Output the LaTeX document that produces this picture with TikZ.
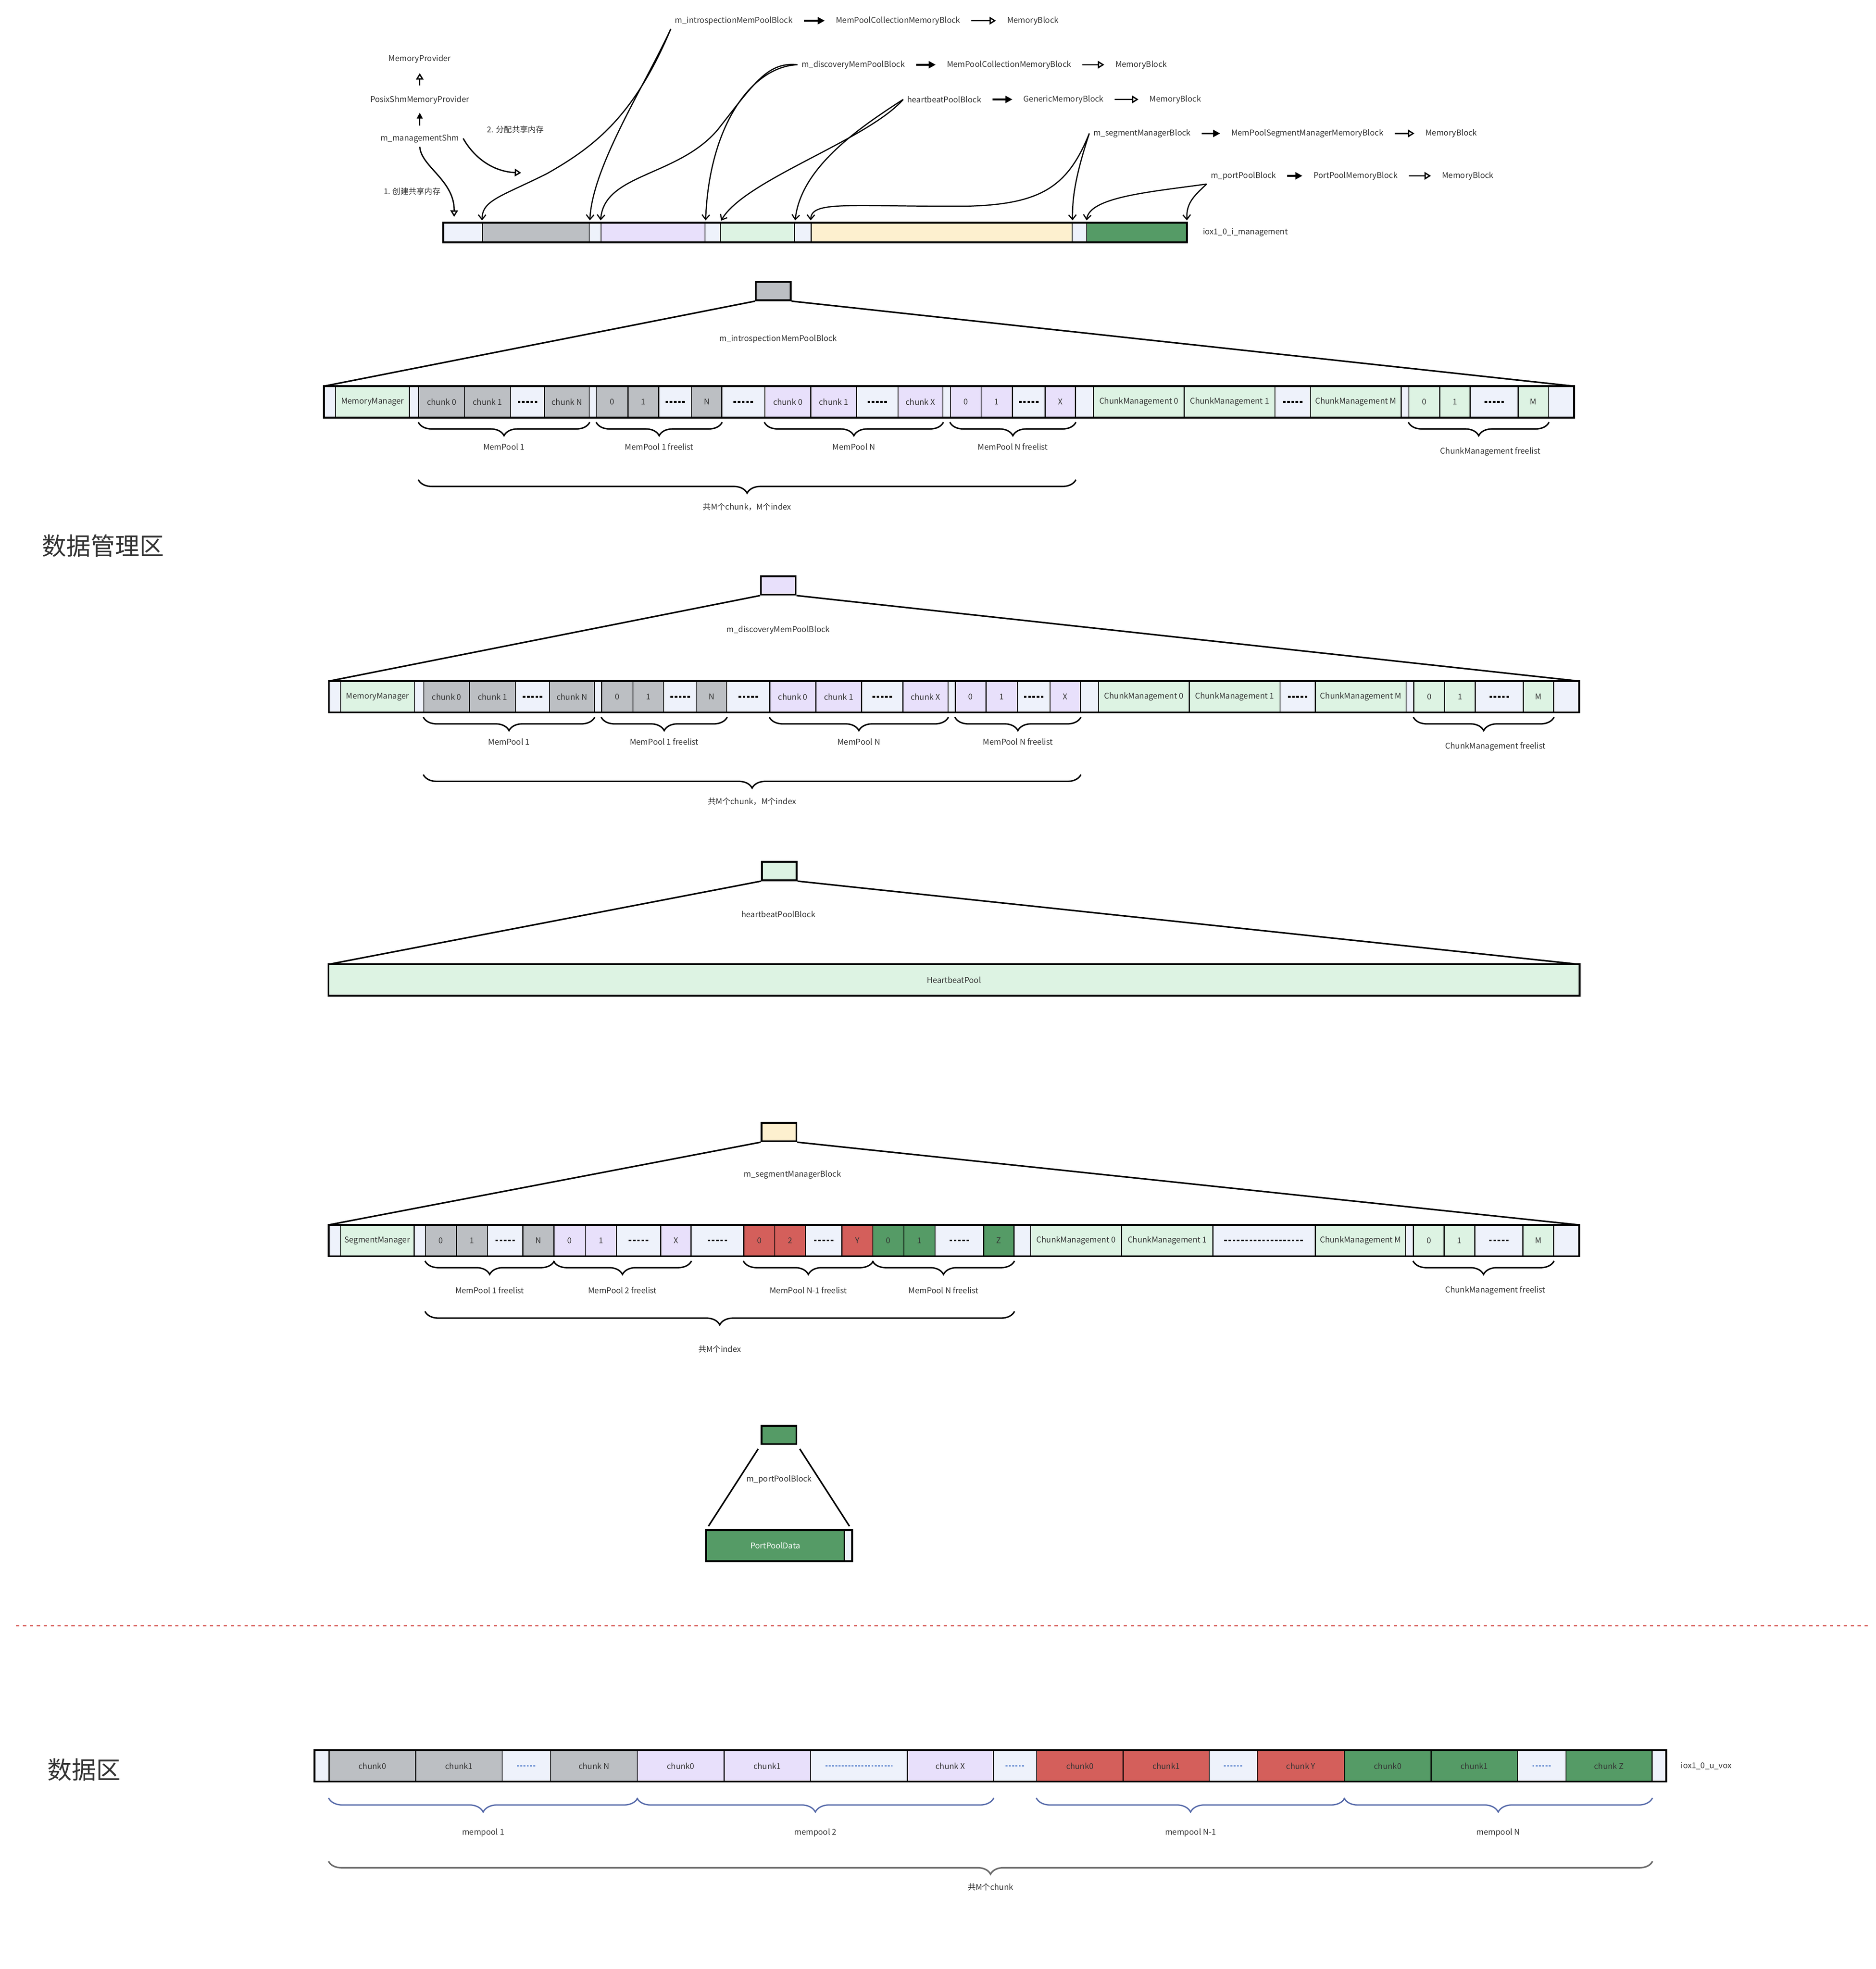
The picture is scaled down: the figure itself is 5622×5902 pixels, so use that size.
\documentclass[tikz,border=0pt]{standalone}
\usepackage{fontspec}
\setmainfont{Noto Sans CJK SC}
\usepackage{tikz}
\usetikzlibrary{arrows.meta,decorations.pathreplacing}

\definecolor{cLt}{HTML}{EEF2FB}
\definecolor{cGy}{HTML}{BCBFC3}
\definecolor{cLv}{HTML}{E8E0FB}
\definecolor{cGn}{HTML}{DDF3E3}
\definecolor{cYl}{HTML}{FDF0CF}
\definecolor{cDk}{HTML}{559B66}
\definecolor{cRd}{HTML}{D45F5B}
\definecolor{cBr}{HTML}{5468A8}
\definecolor{cGb}{HTML}{6B6B6B}
\definecolor{cTx}{HTML}{333333}
\definecolor{cDt}{HTML}{7F9FD8}
\definecolor{cLn}{HTML}{D9605C}

\begin{document}
\begin{tikzpicture}[x=0.01cm,y=-0.01cm,
    every node/.style={font=\fontsize{6.8pt}{8.2pt}\selectfont,text=cTx},
    cell/.style={draw=black,line width=0.8pt,fill=#1,inner sep=0pt,minimum height=0.91cm},
    blk/.style={draw=black,line width=1.5pt,fill=#1,inner sep=0pt,minimum width=1.04cm,minimum height=0.55cm},
    barframe/.style={draw=black,line width=1.6pt},
    dotline/.style={black,line width=1.5pt,dash pattern=on 2.2pt off 1.4pt},
    dotfill/.style={path picture={\draw[dotline] ([xshift=-#1pt]path picture bounding box.center) -- ([xshift=#1pt]path picture bounding box.center);}},
    tri/.style={line width=1.3pt},
    brc/.style={decorate,decoration={brace,mirror,amplitude=11.5pt},line width=1.2pt},
    dbrc/.style={decorate,decoration={brace,mirror,amplitude=12pt},line width=1.1pt,draw=cBr},
    gbrc/.style={decorate,decoration={brace,mirror,amplitude=11pt},line width=1.3pt,draw=cGb},
    has/.style={-{Triangle[length=6pt,width=6pt]},line width=1.5pt},
    isa/.style={-{Triangle[open,length=5.5pt,width=6.5pt]},line width=1.1pt},
    ptr/.style={-{Straight Barb[length=4pt,width=6.5pt]},line width=1pt,shorten >=2pt},
    big/.style={font=\fontsize{20.8pt}{25pt}\selectfont,inner sep=0pt,anchor=west}]

  \useasboundingbox (0,0) rectangle (5622,5902);
  \fill[white] (0,0) rectangle (5622,5902);

  % provider chain
  \node (mp)   at (1258,177) {MemoryProvider};
  \node (psp)  at (1258,299) {PosixShmMemoryProvider};
  \node (mgmt) at (1258,415) {m\_managementShm};
  \draw[isa,shorten <=5pt,shorten >=5pt] (psp) -- (mp);
  \draw[-{Triangle[length=5pt,width=5pt]},line width=1pt,shorten <=4pt,shorten >=4pt] (mgmt) -- (psp);
  \node (alloclbl)  at (1545,388) {2. 分配共享内存};
  \node (createlbl) at (1235,573) {1. 创建共享内存};
  \coordinate (alloc)  at (1562,518);
  \coordinate (shmtip) at (1361,650);
  \draw[isa] (mgmt.east) .. controls (1425,480) and (1485,515) .. (alloc);
  \draw[isa] (mgmt.south) .. controls (1262,500) and (1362,540) .. (shmtip);

  % block type chains
  \node (ia) at (2199,62)   {m\_introspectionMemPoolBlock};
  \node (ib) at (2691.5,62) {MemPoolCollectionMemoryBlock};
  \node (ic) at (3095.5,62) {MemoryBlock};
  \node (da) at (2557,194)  {m\_discoveryMemPoolBlock};
  \node (db) at (3024,194)  {MemPoolCollectionMemoryBlock};
  \node (dc) at (3420,194)  {MemoryBlock};
  \node (ha) at (2830,298)  {heartbeatPoolBlock};
  \node (hb) at (3187.5,298) {GenericMemoryBlock};
  \node (hc) at (3522.5,298) {MemoryBlock};
  \node (sa) at (3422.5,400) {m\_segmentManagerBlock};
  \node (sb) at (3918,400)  {MemPoolSegmentManagerMemoryBlock};
  \node (sc) at (4349.5,400) {MemoryBlock};
  \node (pa) at (3726.5,527) {m\_portPoolBlock};
  \node (pb) at (4062.5,527) {PortPoolMemoryBlock};
  \node (pc) at (4399,527)  {MemoryBlock};
  \foreach \u/\v/\w in {ia/ib/ic,da/db/dc,ha/hb/hc,sa/sb/sc,pa/pb/pc} {
    \draw[has,shorten <=6pt,shorten >=6pt] (\u) -- (\v);
    \draw[isa,shorten <=6pt,shorten >=6pt] (\v) -- (\w);
  }

  % shared memory overview
  \foreach \xa/\xb/\fc [count=\i] in {1330/1446/cLt,1446/1766/cGy,1766/1801/cLt,1801/2113/cLv,2113/2159/cLt,
      2159/2381/cGn,2381/2431/cLt,2431/3213/cYl,3213/3257/cLt,3257/3556/cDk} {
    \pgfmathsetmacro\w{(\xb-\xa)*0.01}
    \node[cell=\fc,minimum width=\w cm,minimum height=0.56cm] (t\i) at ({(\xa+\xb)/2},697) {};
  }
  \draw[barframe] (t1.north west) rectangle (t10.south east);
  \node[right=10pt] (imgmt) at (t10.east) {iox1\_0\_i\_management};

  \draw[ptr] (ia.south west) .. controls (1900,350) and (1780,440) .. (1640,520)
                             .. controls (1500,590) and (1445,600) .. (t2.north west);
  \draw[ptr] (ia.south west) .. controls (1930,260) and (1775,500) .. (t2.north east);
  \draw[ptr] (da.west) .. controls (2300,185) and (2260,250) .. (2150,390)
                       .. controls (2030,530) and (1810,520) .. (t4.north west);
  \draw[ptr] (da.west) .. controls (2250,200) and (2125,380) .. (t4.north east);
  \draw[ptr] (ha.west) .. controls (2600,420) and (2230,540) .. (t6.north west);
  \draw[ptr] (ha.west) .. controls (2580,380) and (2400,500) .. (t6.north east);
  \draw[ptr] (sa.west) .. controls (3200,560) and (3120,612) .. (2900,618)
                       .. controls (2550,620) and (2431,600) .. (t8.north west);
  \draw[ptr] (sa.west) .. controls (3225,520) and (3213,590) .. (t8.north east);
  \draw[ptr] (pa.south west) .. controls (3450,575) and (3265,590) .. (t10.north west);
  \draw[ptr] (pa.south west) .. controls (3575,590) and (3555,610) .. (t10.north east);

  \node[big] (mgmtarea) at (125,1636) {数据管理区};

  % introspection and discovery blocks
  \def\mgmtcells{972/1006/cLt/0/{},1006/1227/cGn/0/MemoryManager,1227/1255/cLt/0/{},
    1255/1392/cGy/0/chunk 0,1392/1530/cGy/0/chunk 1,1530/1632/cLt/8.3/{},1632/1766/cGy/0/chunk N,
    1766/1788/cLt/0/{},1788/1882/cGy/0/0,1882/1974/cGy/0/1,1974/2073/cLt/8.3/{},2073/2163/cGy/0/N,
    2163/2292/cLt/8.3/{},2292/2430/cLv/0/chunk 0,2430/2567/cLv/0/chunk 1,2567/2691/cLt/8.3/{},
    2691/2826/cLv/0/chunk X,2826/2848/cLt/0/{},2848/2940/cLv/0/0,2940/3034/cLv/0/1,
    3034/3132/cLt/8.3/{},3132/3223/cLv/0/X,3223/3277/cLt/0/{},3277/3549/cGn/0/ChunkManagement 0,
    3549/3821/cGn/0/ChunkManagement 1,3821/3927/cLt/8.3/{},3927/4199/cGn/0/ChunkManagement M,
    4199/4222/cLt/0/{},4222/4315/cGn/0/0,4315/4406/cGn/0/1,4406/4550/cLt/8.3/{},4550/4641/cGn/0/M,
    4641/4716/cLt/0/{}}
  \foreach \r/\dx/\dy in {a/0/0,b/15/884} {
    \foreach \xa/\xb/\fc/\dw/\txt [count=\i] in \mgmtcells {
      \pgfmathsetmacro\w{(\xb-\xa)*0.01}
      \node[cell=\fc,minimum width=\w cm,dotfill=\dw] (\r\i) at ({(\xa+\xb)/2+\dx},{1204.5+\dy}) {\txt};
    }
    \draw[barframe] (\r1.north west) rectangle (\r33.south east);
    \draw[brc] ([yshift=-4pt]\r4.south west) -- ([yshift=-4pt]\r7.south east) node[midway,yshift=-21pt] {MemPool 1};
    \draw[brc] ([yshift=-4pt]\r9.south west) -- ([yshift=-4pt]\r12.south east) node[midway,yshift=-21pt] {MemPool 1 freelist};
    \draw[brc] ([yshift=-4pt]\r14.south west) -- ([yshift=-4pt]\r17.south east) node[midway,yshift=-21pt] {MemPool N};
    \draw[brc] ([yshift=-4pt]\r19.south west) -- ([yshift=-4pt]\r22.south east) node[midway,yshift=-21pt] {MemPool N freelist};
    \draw[brc] ([yshift=-4pt]\r29.south west) -- ([yshift=-4pt]\r32.south east) node[midway,yshift=-25pt,xshift=10pt] {ChunkManagement freelist};
    \draw[brc] ([yshift=-53pt]\r4.south west) -- ([yshift=-53pt]\r22.south east) node[midway,yshift=-23pt] {共M个chunk，M个index};
  }
  \node[blk=cGy] (ibox) at (2317.5,872.5) {};
  \node (ilbl) at (2332,1016) {m\_introspectionMemPoolBlock};
  \draw[tri] (ibox.south west) -- (a1.north west);
  \draw[tri] (ibox.south east) -- (a33.north east);
  \node[blk=cLv] (dbox) at (2332.5,1755) {};
  \node (dlbl) at (2332,1888) {m\_discoveryMemPoolBlock};
  \draw[tri] (dbox.south west) -- (b1.north west);
  \draw[tri] (dbox.south east) -- (b33.north east);

  % heartbeat block
  \node[blk=cGn] (hbox) at (2335.5,2611) {};
  \node (hlbl) at (2333,2740) {heartbeatPoolBlock};
  \node[cell=cGn,minimum width=37.44cm] (hp) at (2859,2937.5) {HeartbeatPool};
  \draw[barframe] (hp.north west) rectangle (hp.south east);
  \draw[tri] (hbox.south west) -- (hp.north west);
  \draw[tri] (hbox.south east) -- (hp.north east);

  % segment manager block
  \def\segcells{986/1020/cLt/0/{},1020/1241/cGn/0/SegmentManager,1241/1275/cLt/0/{},
    1275/1368/cGy/0/0,1368/1461/cGy/0/1,1461/1567/cLt/8.3/{},1567/1660/cGy/0/N,
    1660/1755/cLv/0/0,1755/1847/cLv/0/1,1847/1980/cLt/8.3/{},1980/2071/cLv/0/X,
    2071/2229/cLt/8.3/{},2229/2322/cRd/0/0,2322/2414/cRd/0/2,2414/2523/cLt/8.3/{},2523/2616/cRd/0/Y,
    2616/2709/cDk/0/0,2709/2802/cDk/0/1,2802/2948/cLt/8.3/{},2948/3039/cDk/0/Z,3039/3089/cLt/0/{},
    3089/3361/cGn/0/ChunkManagement 0,3361/3635/cGn/0/ChunkManagement 1,3635/3942/cLt/34/{},
    3942/4213/cGn/0/ChunkManagement M,4213/4236/cLt/0/{},4236/4328/cGn/0/0,4328/4420/cGn/0/1,
    4420/4564/cLt/8.3/{},4564/4656/cGn/0/M,4656/4731/cLt/0/{}}
  \foreach \xa/\xb/\fc/\dw/\txt [count=\i] in \segcells {
    \pgfmathsetmacro\w{(\xb-\xa)*0.01}
    \node[cell=\fc,minimum width=\w cm,dotfill=\dw] (s\i) at ({(\xa+\xb)/2},3718.5) {\txt};
  }
  \draw[barframe] (s1.north west) rectangle (s31.south east);
  \node[blk=cYl] (sbox) at (2334.5,3393.5) {};
  \node (slbl) at (2375,3521) {m\_segmentManagerBlock};
  \draw[tri] (sbox.south west) -- (s1.north west);
  \draw[tri] (sbox.south east) -- (s31.north east);
  \draw[brc] ([yshift=-4pt]s4.south west) -- ([yshift=-4pt]s7.south east) node[midway,yshift=-25pt] {MemPool 1 freelist};
  \draw[brc] ([yshift=-4pt]s8.south west) -- ([yshift=-4pt]s11.south east) node[midway,yshift=-25pt] {MemPool 2 freelist};
  \draw[brc] ([yshift=-4pt]s13.south west) -- ([yshift=-4pt]s16.south east) node[midway,yshift=-25pt] {MemPool N-1 freelist};
  \draw[brc] ([yshift=-4pt]s17.south west) -- ([yshift=-4pt]s20.south east) node[midway,yshift=-25pt] {MemPool N freelist};
  \draw[brc] ([yshift=-4pt]s27.south west) -- ([yshift=-4pt]s30.south east) node[midway,yshift=-25pt,xshift=10pt] {ChunkManagement freelist};
  \draw[brc] ([yshift=-47pt]s4.south west) -- ([yshift=-47pt]s20.south east) node[midway,yshift=-32pt] {共M个index};

  % port pool block
  \node[blk=cDk] (pbox) at (2334.5,4301) {};
  \node (plbl) at (2335,4435) {m\_portPoolBlock};
  \node[cell=cDk,minimum width=4.13cm,minimum height=0.9cm,text=white] (ppd) at (2323.5,4633) {PortPoolData};
  \node[cell=cLt,minimum width=0.22cm,minimum height=0.9cm] (ppe) at (2541,4633) {};
  \draw[barframe] (ppd.north west) rectangle (ppe.south east);
  \draw[tri,shorten <=4pt,shorten >=4pt] (pbox.south west) -- (ppd.north west);
  \draw[tri,shorten <=4pt,shorten >=4pt] (pbox.south east) -- (ppe.north east);

  \draw[cLn,line width=1.3pt,dash pattern=on 2.8pt off 3.1pt] (48,4873) -- (5600,4873);

  % data segment
  \node[big] (dataarea) at (142,5305) {数据区};
  \def\datacells{944/986/cLt/0/{},986/1246/cGy/0/chunk0,1246/1505/cGy/0/chunk1,1505/1650/cLt/8/{},
    1650/1910/cGy/0/chunk N,1910/2170/cLv/0/chunk0,2170/2429/cLv/0/chunk1,2429/2719/cLt/28.5/{},
    2719/2977/cLv/0/chunk X,2977/3107/cLt/8/{},3107/3366/cRd/0/chunk0,3366/3624/cRd/0/chunk1,
    3624/3768/cLt/8/{},3768/4029/cRd/0/chunk Y,4029/4289/cDk/0/chunk0,4289/4548/cDk/0/chunk1,
    4548/4693/cLt/8/{},4693/4951/cDk/0/chunk Z,4951/4992/cLt/0/{}}
  \begin{scope}[dotline/.style={cDt,line width=1.1pt,dash pattern=on 1.6pt off 1.2pt}]
    \foreach \xa/\xb/\fc/\dw/\txt [count=\i] in \datacells {
      \pgfmathsetmacro\w{(\xb-\xa)*0.01}
      \node[cell=\fc,minimum width=\w cm,dotfill=\dw] (d\i) at ({(\xa+\xb)/2},5293) {\txt};
    }
  \end{scope}
  \draw[barframe] (d1.north west) rectangle (d19.south east);
  \node[right=9pt] (uvox) at (d19.east) {iox1\_0\_u\_vox};
  \draw[dbrc] ([yshift=-14pt]d2.south west) -- ([yshift=-14pt]d5.south east) node[midway,yshift=-29.6pt] {mempool 1};
  \draw[dbrc] ([yshift=-14pt]d6.south west) -- ([yshift=-14pt]d9.south east) node[midway,yshift=-29.6pt] {mempool 2};
  \draw[dbrc] ([yshift=-14pt]d11.south west) -- ([yshift=-14pt]d14.south east) node[midway,yshift=-29.6pt] {mempool N-1};
  \draw[dbrc] ([yshift=-14pt]d15.south west) -- ([yshift=-14pt]d18.south east) node[midway,yshift=-29.6pt] {mempool N};
  \draw[gbrc] ([yshift=-68pt]d2.south west) -- ([yshift=-68pt]d18.south east) node[midway,yshift=-22pt] {共M个chunk};
\end{tikzpicture}
\end{document}
